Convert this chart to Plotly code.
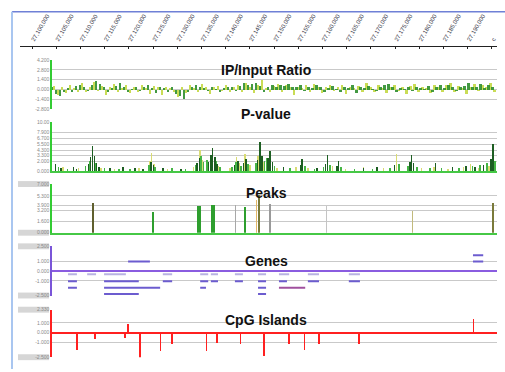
import plotly.graph_objects as go

W, H = 505, 372
def PX(x): return x / W
def PY(y): return 1 - y / H

# ---------------- data ----------------
top_tick_labels = ["27,100,000", "27,105,000", "27,110,000", "27,115,000", "27,120,000",
                   "27,125,000", "27,130,000", "27,135,000", "27,140,000", "27,145,000",
                   "27,150,000", "27,155,000", "27,160,000", "27,165,000", "27,170,000",
                   "27,175,000", "27,180,000", "27,185,000", "27,190,000", "c"]

ratio_dark_pos = list(range(0, 991, 9))
ratio_dark = [0.3, -0.6, -0.9, -0.4, 0.2, -0.3, 0.5, 0.7, 0.4, -0.2,
              0.6, 1.2, 0.8, 0.3, -0.4, 0.2, 0.5, 0.9, 0.4, -0.3,
              0.1, 0.4, -0.2, 0.3, 0.6, 0.2, -0.5, 0.3, 0.2, -0.3,
              0.4, -0.6, -0.9, -1.3, -0.4, 0.3, 0.7, 0.4, 0.2, -0.2,
              0.3, 0.1, -0.3, 0.2, 0.4, 0.3, -0.2, 0.5, 0.9, 0.6,
              0.8, 1.0, 0.5, -0.3, 0.4, 0.6, 0.3, 0.7, 0.5, 0.8,
              0.4, 0.3, 0.6, -0.2, 0.4, 0.2, 0.7, 0.3, -0.4, 0.2,
              0.5, 0.1, -0.3, 0.4, 0.2, 0.6, -0.5, 0.3, 0.2, 0.5,
              0.1, -0.2, 0.3, 0.6, 0.8, 0.4, -0.3, 0.2, 0.1, 0.3,
              -0.2, 0.4, 0.2, 0.1, 0.5, -0.3, 0.3, 0.6, 0.2, 0.7,
              0.4, -0.2, 0.3, 0.5, 0.9, 0.3, 0.4, 0.8, 0.2, 0.6, 0.3]
ratio_light_pos = [p + 4.5 for p in ratio_dark_pos]
ratio_light = [0.5, -0.8, 0.3, -0.5, 0.6, 0.2, -0.4, 0.9, -0.3, 0.4,
               1.1, -0.2, 0.5, -0.7, 0.3, 0.8, -0.4, 0.2, 0.6, -0.5,
               0.4, -0.3, 0.7, 0.2, -0.6, 0.5, 0.3, -0.8, 0.4, 0.2,
               -0.4, -1.0, 0.3, -0.5, 0.6, 0.2, -0.3, 0.8, 0.4, -0.6,
               0.3, 0.5, -0.2, 0.7, -0.4, 0.3, 0.6, -0.3, 0.9, 0.4,
               -0.5, 0.7, 1.3, 0.2, -0.4, 0.5, 0.8, -0.3, 0.6, 0.3,
               -0.7, 0.4, 0.2, 0.6, -0.3, 0.8, 0.3, -0.5, 0.4, 0.6,
               -0.2, 0.3, 0.7, -0.6, 0.4, 0.2, 0.5, -0.4, 0.9, 0.3,
               -0.3, 0.6, 0.2, -0.5, 0.4, 0.7, -0.2, 0.3, -0.6, 0.5,
               0.8, -0.3, 0.4, 0.2, -0.5, 0.6, 0.3, -0.4, 0.7, 1.0,
               -0.3, 0.5, 0.2, -0.6, 0.4, 0.8, -0.2, 0.6, 0.3, 0.9, -0.4]

pv_dark_pos = [8, 20, 48, 55, 82, 87, 91, 95, 100, 106, 130, 160, 186, 205, 222, 228, 250, 290,
               326, 331, 352, 357, 361, 366, 371, 410, 418, 430, 436, 462, 467, 472, 486, 490, 495,
               520, 558, 562, 596, 615, 619, 640, 644, 700, 730, 770, 804, 808, 812, 862, 900,
               930, 950, 970, 986, 991]
pv_dark = [1.4, 0.6, 0.9, 0.5, 1.5, 2.8, 5.2, 3.0, 1.6, 0.8, 0.7, 0.9, 0.6, 0.5, 1.8, 1.2, 0.6, 0.5,
           1.6, 2.6, 1.8, 3.2, 4.7, 2.9, 1.5, 1.3, 2.0, 1.6, 2.5, 2.2, 5.9, 3.0, 2.6, 4.2, 1.8,
           0.8, 1.2, 2.4, 0.6, 1.5, 3.2, 1.0, 2.1, 0.6, 0.9, 1.2, 1.8, 3.2, 1.6, 1.6, 0.8,
           1.1, 0.9, 1.3, 2.4, 5.5]
pv_mid_pos = [15, 35, 75, 84, 98, 118, 150, 175, 218, 232, 270, 300, 323, 335, 340, 348, 368, 378,
              405, 414, 425, 440, 458, 478, 482, 500, 535, 568, 590, 610, 625, 650, 680, 720, 760,
              780, 800, 820, 850, 875, 915, 945, 962, 978, 995]
pv_mid = [0.8, 0.5, 1.0, 2.0, 1.6, 0.6, 0.5, 0.4, 1.3, 0.9, 0.6, 0.4, 1.2, 3.0, 1.8, 2.2, 2.0, 0.9,
          0.8, 1.8, 1.0, 1.4, 1.6, 2.0, 2.6, 1.0, 0.6, 1.0, 0.5, 0.9, 1.2, 0.8, 0.4, 0.5, 0.7,
          1.5, 1.0, 0.8, 0.6, 0.7, 0.6, 1.0, 1.2, 1.6, 2.0]
pv_light_pos = [25, 60, 110, 140, 195, 220, 224, 229, 260, 318, 333, 338, 374, 400, 415, 421, 434,
                445, 463, 476, 505, 548, 575, 630, 660, 700, 745, 774, 779, 830, 858, 890, 925,
                940, 958, 982]
pv_light = [0.9, 0.6, 0.7, 0.5, 0.6, 2.0, 3.7, 1.5, 0.5, 0.9, 4.3, 2.2, 1.0, 0.6, 2.9, 1.6, 3.5,
            1.2, 3.0, 1.8, 0.6, 0.8, 0.6, 1.0, 0.5, 0.8, 0.6, 3.6, 1.4, 0.6, 0.9, 0.5, 0.8,
            1.4, 0.7, 1.1]

peak_pos = [91.5, 226, 330, 362, 413, 434, 460, 466, 490, 617, 810, 990]
peak_val = [4.3, 3.0, 3.86, 4.0, 4.0, 3.7, 4.7, 5.4, 4.1, 3.9, 3.15, 4.3]
peak_col = ["#5f5f2e", "#2e9e2e", "#2e9e2e", "#2e9e2e", "#a8a8a8", "#2e9e2e",
            "#e3b766", "#7a7a3a", "#9a9a9a", "#c4c4c4", "#c2ba7c", "#7a7a3a"]
peak_w = [4.5, 4.5, 8.5, 8.5, 3.0, 6.0, 3.5, 4.0, 3.5, 3.0, 3.5, 4.5]

gene_main_start = [946, 171, 36, 117, 249, 333, 357, 411, 463, 510, 575, 667, 36, 117, 333, 463, 117, 463]
gene_main_end   = [969, 220, 56, 195, 270, 351, 373, 429, 481, 528, 600, 692, 56, 243, 346, 481, 195, 481]
gene_main_row   = [1.6, 0.95, -1.05, -1.05, -1.05, -1.05, -1.05, -1.05, -1.05, -1.05, -1.05, -1.05,
                   -1.7, -1.7, -1.7, -1.7, -2.35, -2.35]
gene_extra_start = [946]
gene_extra_end = [969]
gene_extra_row = [0.95]
gene_light_start = [36, 79, 117, 249, 333, 357, 411, 463, 510, 575, 667]
gene_light_end   = [56, 99, 166, 270, 351, 373, 429, 481, 533, 600, 692]
gene_light_row   = [-0.35] * 11
gene_red_start = [510]
gene_red_end = [569]
gene_red_row = [-1.7]

cpg_pos = [55.5, 96.6, 164, 171.4, 197.8, 244, 269, 347.6, 371.4, 424, 477, 532, 567, 600, 690, 947]
cpg_val = [-1.73, -0.67, -0.5, 0.83, -2.6, -1.9, -1.17, -1.9, -1.1, -1.17, -2.4, -1.17, -1.77,
           -1.17, -1.17, 1.43]

# ---------------- helpers ----------------
def seg(starts, ends, rows):
    xs, ys = [], []
    for s, e, r in zip(starts, ends, rows):
        xs += [s, e, None]
        ys += [r, r, None]
    return xs, ys

fig = go.Figure()

# panel 1: IP/Input ratio
fig.add_trace(go.Bar(x=ratio_light_pos, y=ratio_light, width=5, marker_color="#c9dc55",
                     marker_line_width=0, xaxis="x", yaxis="y"))
fig.add_trace(go.Bar(x=ratio_dark_pos, y=ratio_dark, width=5.5, marker_color="#2f8f2f",
                     marker_line_width=0, opacity=0.9, xaxis="x", yaxis="y"))

# panel 2: P-value
fig.add_trace(go.Bar(x=pv_light_pos, y=pv_light, width=3.5, marker_color="#d9dc74",
                     marker_line_width=0, xaxis="x2", yaxis="y2"))
fig.add_trace(go.Bar(x=pv_mid_pos, y=pv_mid, width=3.5, marker_color="#45b545",
                     marker_line_width=0, xaxis="x2", yaxis="y2"))
fig.add_trace(go.Bar(x=pv_dark_pos, y=pv_dark, width=3.5, marker_color="#1d5e22",
                     marker_line_width=0, xaxis="x2", yaxis="y2"))

# panel 3: Peaks
fig.add_trace(go.Bar(x=peak_pos, y=peak_val, width=peak_w, marker_color=peak_col,
                     marker_line_width=0, xaxis="x3", yaxis="y3"))

# panel 4: Genes
for st, en, rw, col in [(gene_light_start, gene_light_end, gene_light_row, "#b9b3e2"),
                        (gene_main_start, gene_main_end, gene_main_row, "#6c5ccf"),
                        (gene_extra_start, gene_extra_end, gene_extra_row, "#6c5ccf"),
                        (gene_red_start, gene_red_end, gene_red_row, "#a0509e")]:
    xs, ys = seg(st, en, rw)
    fig.add_trace(go.Scatter(x=xs, y=ys, mode="lines", line=dict(color=col, width=2),
                             xaxis="x4", yaxis="y4"))

# panel 5: CpG islands
fig.add_trace(go.Bar(x=cpg_pos, y=cpg_val, width=3.6, marker_color="#ff2020",
                     marker_line_width=0, xaxis="x5", yaxis="y5"))

# dummy for top axis
fig.add_trace(go.Scatter(x=[None], y=[None], xaxis="x6", yaxis="y6"))

XD = [PX(52), PX(497)]
FONT = "Liberation Sans, Arial, sans-serif"
tickfont = dict(size=5, color="#8a8a8a", family=FONT)

def xax(line=False, color="#000"):
    return dict(domain=XD, range=[0, 1000], showgrid=False, zeroline=False,
                showticklabels=False, ticks="", showline=line, linecolor=color,
                linewidth=2, fixedrange=True)

def yax(top, bottom, rng, vals, labels, color, zcolor=None):
    d = dict(domain=[PY(bottom), PY(top)], range=rng, tickvals=vals, ticktext=labels,
             tickfont=tickfont, showgrid=True, gridcolor="#c9c9c9", gridwidth=1,
             showline=True, linecolor=color, linewidth=1.6, ticks="", fixedrange=True,
             zeroline=False)
    if zcolor:
        d.update(zeroline=True, zerolinecolor=zcolor, zerolinewidth=2)
    return d

layout = dict(
    width=W, height=H, margin=dict(l=0, r=0, t=0, b=0),
    paper_bgcolor="white", plot_bgcolor="rgba(0,0,0,0)",
    showlegend=False, barmode="overlay", bargap=0,
    font=dict(family=FONT),
    xaxis=xax(), xaxis2=xax(True, "#46c846"), xaxis3=xax(True, "#46c846"),
    xaxis4=xax(), xaxis5=xax(),
    yaxis=yax(58, 108, [-2.8, 4.2], [-2.8, -1.4, 0, 1.4, 2.8, 4.2],
              ["-2.800", "-1.400", "0.000", "1.400", "2.800", "4.200"], "#33cc33"),
    yaxis2=yax(121, 171, [0, 10], [0, 2.0, 3.3, 4.3, 5.5, 6.7, 7.9, 10],
               ["0.000", "2.000", "3.300", "4.300", "5.500", "6.700", "7.900", "10.00"], "#33cc33"),
    yaxis3=yax(184, 233.5, [0, 7], [0, 1.6, 3.2, 3.9, 5.3, 7],
               ["0.000", "1.600", "3.200", "3.900", "5.300", "7.000"], "#33cc33"),
    yaxis4=yax(247.3, 297.3, [-2.5, 2.5], [-2.5, -1, 0, 1, 2.5],
               ["-2.500", "-1.000", "0.000", "1.000", "2.500"], "#7a55d8", "#8a5ce0"),
    yaxis5=yax(311.7, 360, [-2.5, 2.33], [-2.5, -1, 0, 1, 2.33],
               ["-2.500", "-1.000", "0.000", "1.000", "2.330"], "#ff2020", "#ff2020"),
    xaxis6=dict(domain=[PX(20), PX(497)], range=[-0.496, 19.21], anchor="y6", side="top",
                tickvals=list(range(20)), ticktext=top_tick_labels, tickangle=-60,
                tickfont=dict(size=6, color="#3a3a4a", family=FONT),
                showline=True, linecolor="#222", linewidth=1.6, ticks="inside",
                ticklen=2, tickcolor="#222", showgrid=False, zeroline=False, fixedrange=True),
    yaxis6=dict(domain=[PY(47), PY(45)], range=[0, 1], visible=False, fixedrange=True),
)
for i in range(2, 6):
    layout[f"xaxis{i}"]["anchor"] = f"y{i}"
    layout[f"yaxis{i}"]["anchor"] = f"x{i}"

fig.update_layout(**layout)

# titles
titles = [("IP/Input Ratio", 68), ("P-value", 113), ("Peaks", 193), ("Genes", 262),
          ("CpG Islands", 322)]
for txt, yy in titles:
    fig.add_annotation(x=PX(266), y=PY(yy), xref="paper", yref="paper", text=f"<b>{txt}</b>",
                       xanchor="center", yanchor="middle",
                       showarrow=False, font=dict(size=14, color="#111", family=FONT))

# frame lines and grey label boxes
shapes = [
    dict(type="line", xref="paper", yref="paper", x0=PX(12), x1=1, y0=PY(9), y1=PY(9),
         line=dict(color="#6f80d6", width=1.5)),
    dict(type="line", xref="paper", yref="paper", x0=PX(12), x1=PX(12), y0=0, y1=PY(9),
         line=dict(color="#a9c6f0", width=2)),
]
for yy in [184, 233.5, 247.3, 297.3, 311.7, 360]:
    shapes.append(dict(type="rect", xref="paper", yref="paper", x0=PX(18), x1=PX(49),
                       y0=PY(yy + 3), y1=PY(yy - 3), fillcolor="#d6d6d6",
                       line=dict(width=0), layer="below"))
fig.update_layout(shapes=shapes)

fig.write_html("out.html", config={"displayModeBar": False, "staticPlot": True},
               post_script="document.body.style.margin='0';document.body.style.overflow='hidden';")
